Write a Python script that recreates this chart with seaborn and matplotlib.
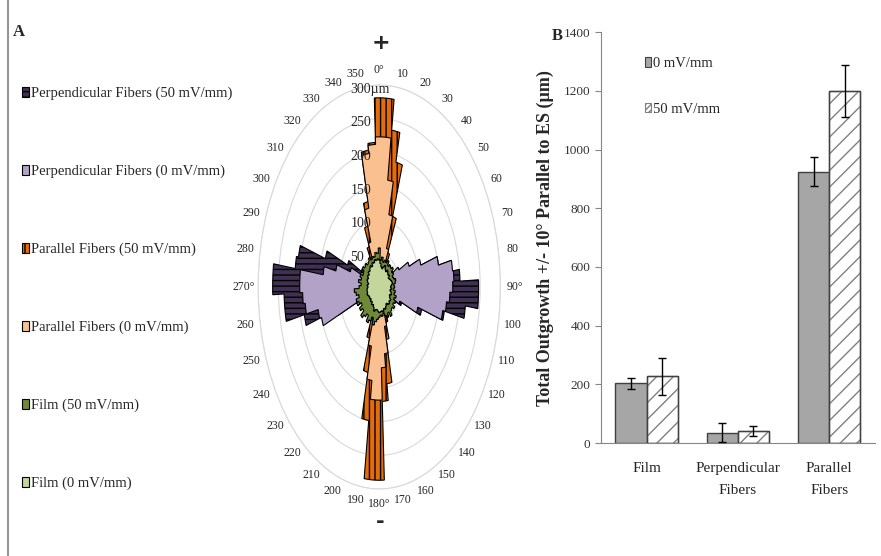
import numpy as np
import pandas as pd
import matplotlib
matplotlib.use("Agg")
import matplotlib.pyplot as plt
import seaborn as sns
from matplotlib.patches import Patch, Rectangle
from matplotlib.lines import Line2D

sns.set_style("white")
plt.rcParams["font.family"] = ["Liberation Serif", "DejaVu Serif"]
plt.rcParams["hatch.linewidth"] = 1.0

# ---- panel A: outgrowth by direction (um), 5 degree bins, 0 = up, clockwise
angles = np.arange(0, 360, 5)

perp_50 = [18, 18, 18, 18, 18, 18, 18, 18, 18, 18, 20, 30,
           40, 60, 100, 150, 180, 200, 246, 246, 215, 165, 110, 60,
           35, 25, 20, 18, 18, 18, 18, 18, 18, 18, 18, 18,
           18, 18, 18, 18, 18, 18, 18, 18, 18, 18, 20, 25,
           30, 60, 110, 190, 236, 236, 264, 264, 210, 205, 140, 85,
           50, 35, 25, 20, 18, 18, 18, 18, 18, 18, 18, 18]
perp_0 = [15, 15, 15, 15, 15, 15, 15, 15, 15, 18, 30, 40,
          55, 80, 108, 150, 183, 185, 182, 175, 168, 161, 100, 55,
          35, 25, 18, 15, 15, 15, 15, 15, 15, 15, 15, 15,
          15, 15, 15, 15, 15, 15, 15, 15, 15, 18, 22, 28,
          35, 60, 150, 155, 185, 190, 197, 197, 140, 110, 75, 50,
          35, 25, 18, 15, 15, 15, 15, 15, 15, 15, 15, 15]
par_50 = [281, 281, 235, 190, 110, 55, 40, 30, 25, 20, 20, 20,
          20, 20, 20, 20, 20, 20, 20, 20, 20, 20, 20, 20,
          20, 20, 20, 22, 25, 30, 40, 50, 55, 80, 145, 170,
          287, 287, 200, 130, 80, 50, 35, 28, 22, 20, 20, 20,
          20, 20, 20, 20, 20, 20, 20, 20, 20, 20, 20, 20,
          20, 20, 22, 25, 30, 40, 45, 65, 95, 130, 205, 215]
par_0 = [223, 223, 160, 110, 60, 35, 25, 20, 18, 15, 15, 15,
         15, 15, 15, 15, 15, 15, 15, 15, 15, 15, 15, 15,
         15, 15, 15, 15, 15, 18, 22, 30, 40, 60, 100, 120,
         168, 168, 140, 90, 50, 30, 22, 18, 15, 15, 15, 15,
         15, 15, 15, 15, 15, 15, 15, 15, 15, 15, 15, 15,
         15, 15, 15, 18, 22, 30, 35, 45, 70, 120, 200, 212]
film_50 = [58, 40, 45, 38, 42, 40, 45, 38, 42, 40, 44, 38,
           40, 36, 38, 42, 40, 36, 38, 35, 40, 38, 44, 40,
           46, 42, 48, 44, 46, 52, 44, 48, 45, 40, 44, 42,
           45, 48, 52, 58, 48, 55, 60, 50, 56, 62, 52, 58,
           50, 55, 60, 52, 58, 62, 50, 45, 52, 46, 50, 44,
           45, 50, 46, 48, 44, 46, 50, 45, 48, 46, 52, 50]
film_0 = [40, 35, 30, 28, 32, 35, 30, 28, 32, 30, 28, 30,
          26, 28, 30, 32, 33, 30, 28, 30, 27, 30, 32, 28,
          30, 34, 32, 35, 33, 30, 33, 36, 34, 38, 36, 37,
          38, 36, 34, 35, 38, 33, 30, 32, 28, 30, 27, 29,
          28, 30, 32, 30, 31, 30, 28, 30, 27, 30, 32, 30,
          33, 31, 35, 33, 36, 38, 35, 40, 38, 42, 40, 42]

rose_series = [
    ("Perpendicular Fibers (50 mV/mm)", perp_50, "#403152", "---"),
    ("Perpendicular Fibers (0 mV/mm)", perp_0, "#b3a2c7", None),
    ("Parallel Fibers (50 mV/mm)", par_50, "#e46c0a", "|||"),
    ("Parallel Fibers (0 mV/mm)", par_0, "#fac090", None),
    ("Film (50 mV/mm)", film_50, "#6f8a37", None),
    ("Film (0 mV/mm)", film_0, "#c3d69b", None),
]
rings = [50, 100, 150, 200, 250, 300]
ring_labels = ["50", "100", "150", "200", "250", "300\u00b5m"]

# ---- panel B: total outgrowth within +/-10 deg of the field
groups = ["Film", "Perpendicular\nFibers", "Parallel\nFibers"]
fields = ["0 mV/mm", "50 mV/mm"]
mean_0 = [203, 35, 925]
mean_50 = [227, 41, 1200]
sd_0 = [18, 33, 48]
sd_50 = [62, 17, 88]


def step_outline(vals):
    # each 5 degree bin drawn as an arc at its radius
    th, rr = [], []
    for a, v in zip(angles, vals):
        th.extend(np.radians(np.linspace(a - 2.5, a + 2.5, 8)))
        rr.extend([v] * 8)
    return th, rr


fig = plt.figure(figsize=(8.81, 5.56), dpi=100)

axA = fig.add_axes([0.293, 0.1205, 0.275, 0.7266], projection="polar")
axA.set_theta_zero_location("N")
axA.set_theta_direction(-1)
axA.set_aspect("auto")
for name, vals, col, hatch in rose_series:
    th, rr = step_outline(vals)
    axA.fill(th, rr, facecolor=col, edgecolor="black", lw=0.8, hatch=hatch, zorder=3)
axA.set_ylim(0, 300)
axA.set_rgrids(rings, labels=[""] * len(rings))
theta_labels = [f"{d}\u00b0" if d % 90 == 0 else str(d) for d in range(0, 360, 10)]
axA.set_thetagrids(range(0, 360, 10), labels=theta_labels, fontsize=8.5)
axA.tick_params(axis="x", pad=0)
axA.xaxis.grid(False)
axA.yaxis.grid(True, color="#d9d9d9", lw=0.8)
axA.spines["polar"].set_color("#d9d9d9")
axA.spines["polar"].set_linewidth(0.8)
for r, lab in zip(rings, ring_labels):
    axA.annotate(lab, xy=(0, r), xytext=(-29, -4), textcoords="offset pixels",
                 ha="left", va="center", fontsize=10, zorder=5)

fig.text(381 / 881, 1 - 43 / 556, "+", ha="center", va="center", fontsize=16,
         fontweight="bold", family="DejaVu Sans")
fig.text(380 / 881, 1 - 522 / 556, "-", ha="center", va="center", fontsize=15,
         fontweight="bold", family="DejaVu Sans")

handlesA = [Patch(facecolor=c, edgecolor="black", hatch=h, lw=0.8) for _, _, c, h in rose_series]
labelsA = [n for n, _, _, _ in rose_series]
fig.legend(handlesA, labelsA, loc="upper left", bbox_to_anchor=(22 / 881, 1 - 87 / 556),
           frameon=False, fontsize=10.5, handlelength=0.5, handleheight=0.65,
           handletextpad=0.15, labelspacing=4.42, borderpad=0, borderaxespad=0)

# ---- bar chart
df = pd.DataFrame({
    "group": groups * 2,
    "field": [fields[0]] * 3 + [fields[1]] * 3,
    "outgrowth": mean_0 + mean_50,
})
axB = fig.add_axes([0.682, 0.2032, 0.311, 0.739])
sns.barplot(data=df, x="group", y="outgrowth", hue="field", order=groups, hue_order=fields,
            palette=["#a6a6a6", "white"], width=0.68, errorbar=None, edgecolor="#404040",
            lw=1, legend=False, ax=axB)
for cont, sd in zip(axB.containers, [sd_0, sd_50]):
    xs = [p.get_x() + p.get_width() / 2 for p in cont]
    hs = [p.get_height() for p in cont]
    axB.errorbar(xs, hs, yerr=sd, fmt="none", ecolor="black", elinewidth=1, capsize=3, zorder=4)
for p in axB.containers[1]:
    p.set_hatch("//")
    p.set_edgecolor("#808080")
    axB.add_patch(Rectangle(p.get_xy(), p.get_width(), p.get_height(), fill=False,
                            ec="#404040", lw=1, zorder=3))

axB.set_xlim(-0.5, 2.5)
axB.set_ylim(0, 1400)
axB.set_yticks(range(0, 1401, 200))
axB.set_xticks([0.5, 1.5, 2.5], minor=True)
axB.tick_params(axis="x", which="major", length=0, pad=14, labelsize=11)
axB.tick_params(axis="x", which="minor", length=5, direction="out", color="#868686")
axB.tick_params(axis="y", length=4, direction="out", color="#868686", labelsize=9.5,
                labelcolor="#333333", left=True)
for lab in axB.get_xticklabels():
    lab.set_linespacing(1.9)
sns.despine(ax=axB)
for s in ["left", "bottom"]:
    axB.spines[s].set_color("#868686")
axB.set_xlabel("")
axB.set_ylabel("Total Outgrowth +/- 10\u00b0 Parallel to ES (\u00b5m)", fontsize=13,
               fontweight="bold", labelpad=7)

handlesB = [Patch(facecolor="#a6a6a6", edgecolor="#404040", lw=0.8),
            Patch(facecolor="white", edgecolor="#808080", hatch="//////", lw=0.8)]
axB.legend(handlesB, fields, loc="upper left", bbox_to_anchor=(0.16, 0.94), frameon=False,
           fontsize=10.5, handlelength=0.45, handleheight=0.65, handletextpad=0.1,
           labelspacing=2.25, borderpad=0, borderaxespad=0)

fig.text(19 / 881, 1 - 32 / 556, "A", ha="center", va="center", fontsize=12, fontweight="bold")
fig.text(557 / 881, 1 - 36 / 556, "B", ha="center", va="center", fontsize=12, fontweight="bold")
fig.add_artist(Line2D([8 / 881, 8 / 881], [0, 1], color="#7f7f7f", lw=1.2,
                      transform=fig.transFigure))

fig.savefig("out.png", dpi=100)
